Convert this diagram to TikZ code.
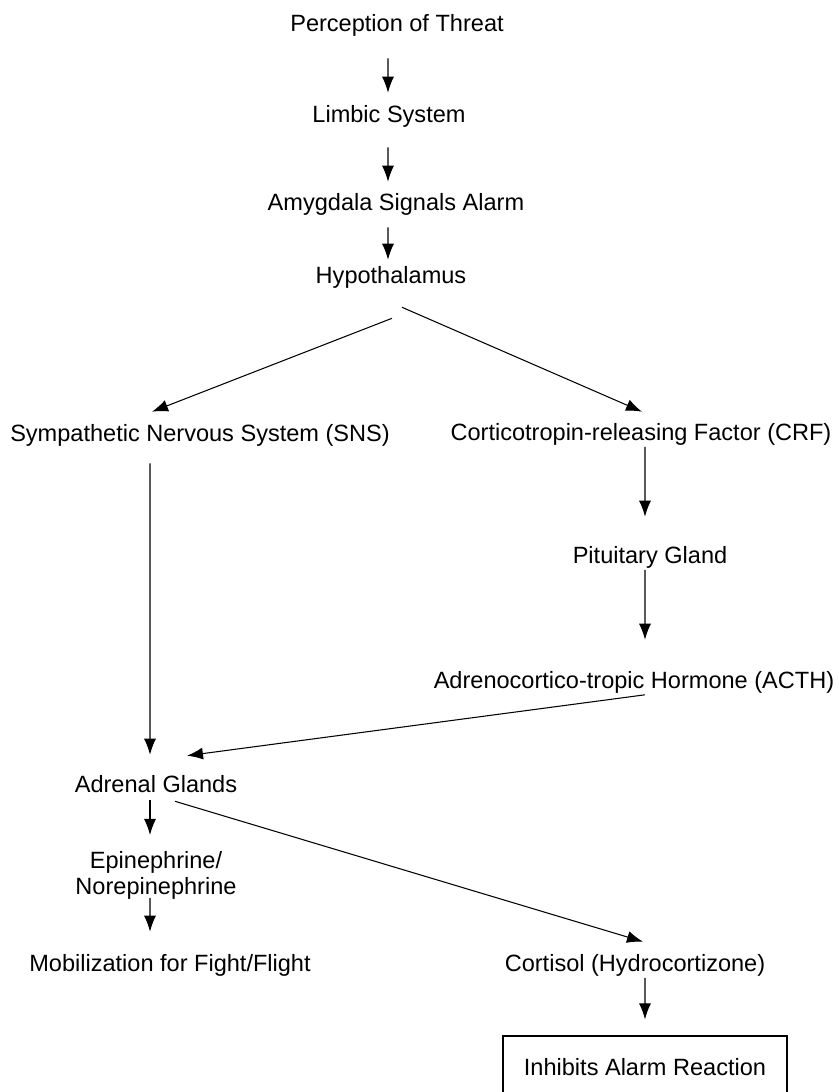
\documentclass[tikz,border=0pt]{standalone}
\usepackage{fontspec}
\setmainfont{Liberation Sans}
\usetikzlibrary{arrows.meta}

\begin{document}
\begin{tikzpicture}[>={Latex[length=3.2mm, width=2.4mm]}, line width=0.6pt,
    lbl/.style={font=\fontsize{13.4pt}{14.7pt}\selectfont, inner sep=0pt, text height=10pt, text depth=3.4pt},
    twoline/.style={font=\fontsize{13.4pt}{14.7pt}\selectfont, inner sep=0pt, align=center},
    boxed/.style={draw, line width=0.7pt, font=\fontsize{13.4pt}{14.7pt}\selectfont, minimum width=5.68cm, minimum height=1.24cm}]
    \useasboundingbox (0, 0) rectangle (16.78, 21.84);

    % Central chain
    \node[lbl] (perc) at (7.94, 21.33) {Perception of Threat};
    \node[lbl] (limb) at (7.78, 19.51) {Limbic System};
    \node[lbl] (amyg) at (7.92, 17.75) {Amygdala Signals Alarm};
    \node[lbl] (hypo) at (7.82, 16.29) {Hypothalamus};

    % Two branches
    \node[lbl] (sns) at (4.00, 13.13) {Sympathetic Nervous System (SNS)};
    \node[lbl] (crf) at (12.82, 13.15) {Corticotropin-releasing Factor (CRF)};
    \node[lbl] (pit) at (13.00, 10.69) {Pituitary Gland};
    \node[lbl] (acth) at (12.68, 8.19) {Adrenocortico-tropic Hormone (ACTH)};
    \node[lbl] (adr) at (3.12, 6.11) {Adrenal Glands};
    \node[twoline] (epi) at (3.12, 4.34) {Epinephrine/\\Norepinephrine};
    \node[lbl] (mob) at (3.40, 2.53) {Mobilization for Fight/Flight};
    \node[lbl] (cort) at (12.70, 2.53) {Cortisol (Hydrocortizone)};
    \node[boxed] (inh) at (12.90, 0.50) {Inhibits Alarm Reaction};

    \draw[->] ([xshift=-1.8mm, yshift=-4.1mm]perc.south) -- ([xshift=-0.2mm, yshift=2.3mm]limb.north);
    \draw[->] ([xshift=-0.2mm, yshift=-3.7mm]limb.south) -- ([xshift=-1.6mm, yshift=2.1mm]amyg.north);
    \draw[->] ([xshift=-1.6mm, yshift=-2.1mm]amyg.south) -- ([xshift=-0.6mm, yshift=1.1mm]hypo.north);

    \draw[->] ([xshift=0.2mm, yshift=-5.7mm]hypo.south) -- ([xshift=-9.6mm, yshift=2.3mm]sns.north);
    \draw[->] ([xshift=2.2mm, yshift=-3.5mm]hypo.south) -- ([xshift=0.2mm, yshift=2.1mm]crf.north);

    \draw[->] ([xshift=0.8mm]crf.south) -- ([xshift=-1.0mm, yshift=5.7mm]pit.north);
    \draw[->] ([xshift=-1.0mm]pit.south) -- ([xshift=2.2mm, yshift=6.1mm]acth.north);
    \draw[->] ([xshift=2.2mm]acth.south) -- ([xshift=6.2mm, yshift=3.7mm]adr.north);
    \draw[->] ([xshift=-10mm, yshift=-3.1mm]sns.south) -- ([xshift=-1.2mm, yshift=3.9mm]adr.north);

    \draw[->] ([xshift=-1.2mm, yshift=-0.3mm]adr.south) -- ([xshift=-1.2mm, yshift=8mm]epi.center);
    \draw[->] ([xshift=-1.2mm, yshift=-4.6mm]epi.center) -- ([xshift=-4mm, yshift=4.3mm]mob.north);
    \draw[->] ([xshift=3.8mm, yshift=-0.5mm]adr.south) -- ([xshift=1.6mm, yshift=2.3mm]cort.north);
    \draw[->] ([xshift=2mm]cort.south) -- ([yshift=3.2mm]inh.north);
\end{tikzpicture}
\end{document}
